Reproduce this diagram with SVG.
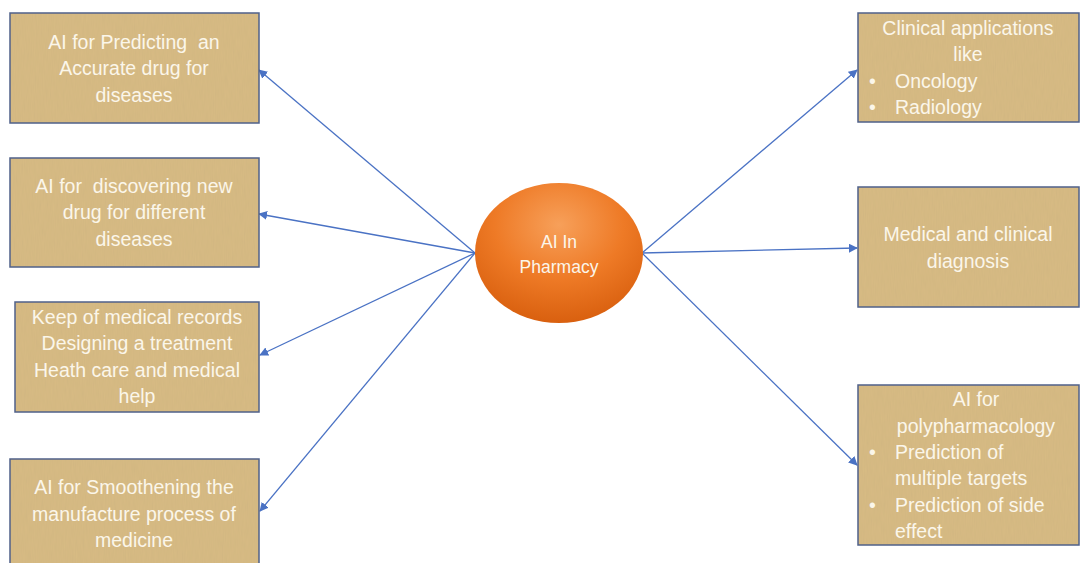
<svg xmlns="http://www.w3.org/2000/svg" width="1082" height="563" viewBox="0 0 1082 563">
<defs>
<style>
.box{fill:#d8bb84;stroke:#4f6089;stroke-width:1.5}
.tx{font-family:"Liberation Sans",Arial,sans-serif;font-size:19.5px;fill:#fbf6ea;text-anchor:middle;white-space:pre}
.tl{font-family:"Liberation Sans",Arial,sans-serif;font-size:19.5px;fill:#fbf6ea;white-space:pre}
.tc{font-family:"Liberation Sans",Arial,sans-serif;font-size:17.5px;fill:#fbf6ea;text-anchor:middle}
.conn{stroke:#4a72c4;stroke-width:1.3;fill:none;marker-end:url(#ah)}
</style>
<marker id="ah" viewBox="0 0 10 10" refX="9" refY="5" markerWidth="9" markerHeight="9" orient="auto" markerUnits="userSpaceOnUse">
<path d="M0,0 L10,5 L0,10 z" fill="#4a72c4"/>
</marker>
<radialGradient id="og" cx="50%" cy="30%" r="70%">
<stop offset="0" stop-color="#f7a05a"/>
<stop offset="0.55" stop-color="#ee7a26"/>
<stop offset="1" stop-color="#d9600f"/>
</radialGradient>
<filter id="tex" x="0" y="0" width="100%" height="100%">
<feTurbulence type="fractalNoise" baseFrequency="0.9 0.08" numOctaves="2" seed="3" result="n"/>
<feColorMatrix in="n" type="matrix" values="0 0 0 0 0.55  0 0 0 0 0.42  0 0 0 0 0.2  0 0 0 0.35 0" result="c"/>
<feComposite in="c" in2="SourceGraphic" operator="atop"/>
</filter>
</defs>
<rect width="1082" height="563" fill="#ffffff"/>
<g id="connectors">
<line class="conn" x1="475" y1="253" x2="259" y2="70"/>
<line class="conn" x1="475" y1="253" x2="259" y2="214"/>
<line class="conn" x1="475" y1="253" x2="260" y2="355"/>
<line class="conn" x1="475" y1="253" x2="260" y2="511"/>
<line class="conn" x1="642" y1="253" x2="857" y2="70"/>
<line class="conn" x1="642" y1="253" x2="857" y2="248"/>
<line class="conn" x1="642" y1="253" x2="857" y2="465"/>
</g>
<g id="center">
<ellipse cx="559" cy="253" rx="84" ry="70" fill="url(#og)"/>
<text class="tc" x="559" y="248">AI In</text>
<text class="tc" x="559" y="273">Pharmacy</text>
</g>
<g id="left1">
<rect class="box" x="10" y="13" width="249" height="110"/>
<rect x="11" y="14" width="247" height="108" fill="#d8bb84" filter="url(#tex)"/>
<text class="tx" x="134" y="49">AI for Predicting  an</text>
<text class="tx" x="134" y="75">Accurate drug for</text>
<text class="tx" x="134" y="102">diseases</text>
</g>
<g id="left2">
<rect class="box" x="10" y="158" width="249" height="109"/>
<rect x="11" y="159" width="247" height="107" fill="#d8bb84" filter="url(#tex)"/>
<text class="tx" x="134" y="193">AI for  discovering new</text>
<text class="tx" x="134" y="219">drug for different</text>
<text class="tx" x="134" y="246">diseases</text>
</g>
<g id="left3">
<rect class="box" x="15" y="302" width="244" height="110"/>
<rect x="16" y="303" width="242" height="108" fill="#d8bb84" filter="url(#tex)"/>
<text class="tx" x="137" y="324">Keep of medical records</text>
<text class="tx" x="137" y="350">Designing a treatment</text>
<text class="tx" x="137" y="377">Heath care and medical</text>
<text class="tx" x="137" y="403">help</text>
</g>
<g id="left4">
<rect class="box" x="10" y="459" width="249" height="110"/>
<rect x="11" y="460" width="247" height="108" fill="#d8bb84" filter="url(#tex)"/>
<text class="tx" x="134" y="494">AI for Smoothening the</text>
<text class="tx" x="134" y="521">manufacture process of</text>
<text class="tx" x="134" y="547">medicine</text>
</g>
<g id="right1">
<rect class="box" x="858" y="13" width="221" height="109"/>
<rect x="859" y="14" width="219" height="107" fill="#d8bb84" filter="url(#tex)"/>
<text class="tx" x="968" y="35">Clinical applications</text>
<text class="tx" x="968" y="61">like</text>
<text class="tl" x="869" y="88">•</text>
<text class="tl" x="895" y="88">Oncology</text>
<text class="tl" x="869" y="114">•</text>
<text class="tl" x="895" y="114">Radiology</text>
</g>
<g id="right2">
<rect class="box" x="858" y="187" width="221" height="120"/>
<rect x="859" y="188" width="219" height="118" fill="#d8bb84" filter="url(#tex)"/>
<text class="tx" x="968" y="241">Medical and clinical</text>
<text class="tx" x="968" y="268">diagnosis</text>
</g>
<g id="right3">
<rect class="box" x="858" y="385" width="221" height="160"/>
<rect x="859" y="386" width="219" height="158" fill="#d8bb84" filter="url(#tex)"/>
<text class="tx" x="976" y="406">AI for</text>
<text class="tx" x="976" y="433">polypharmacology</text>
<text class="tl" x="869" y="459">•</text>
<text class="tl" x="895" y="459">Prediction of</text>
<text class="tl" x="895" y="485">multiple targets</text>
<text class="tl" x="869" y="512">•</text>
<text class="tl" x="895" y="512">Prediction of side</text>
<text class="tl" x="895" y="538">effect</text>
</g>
</svg>
